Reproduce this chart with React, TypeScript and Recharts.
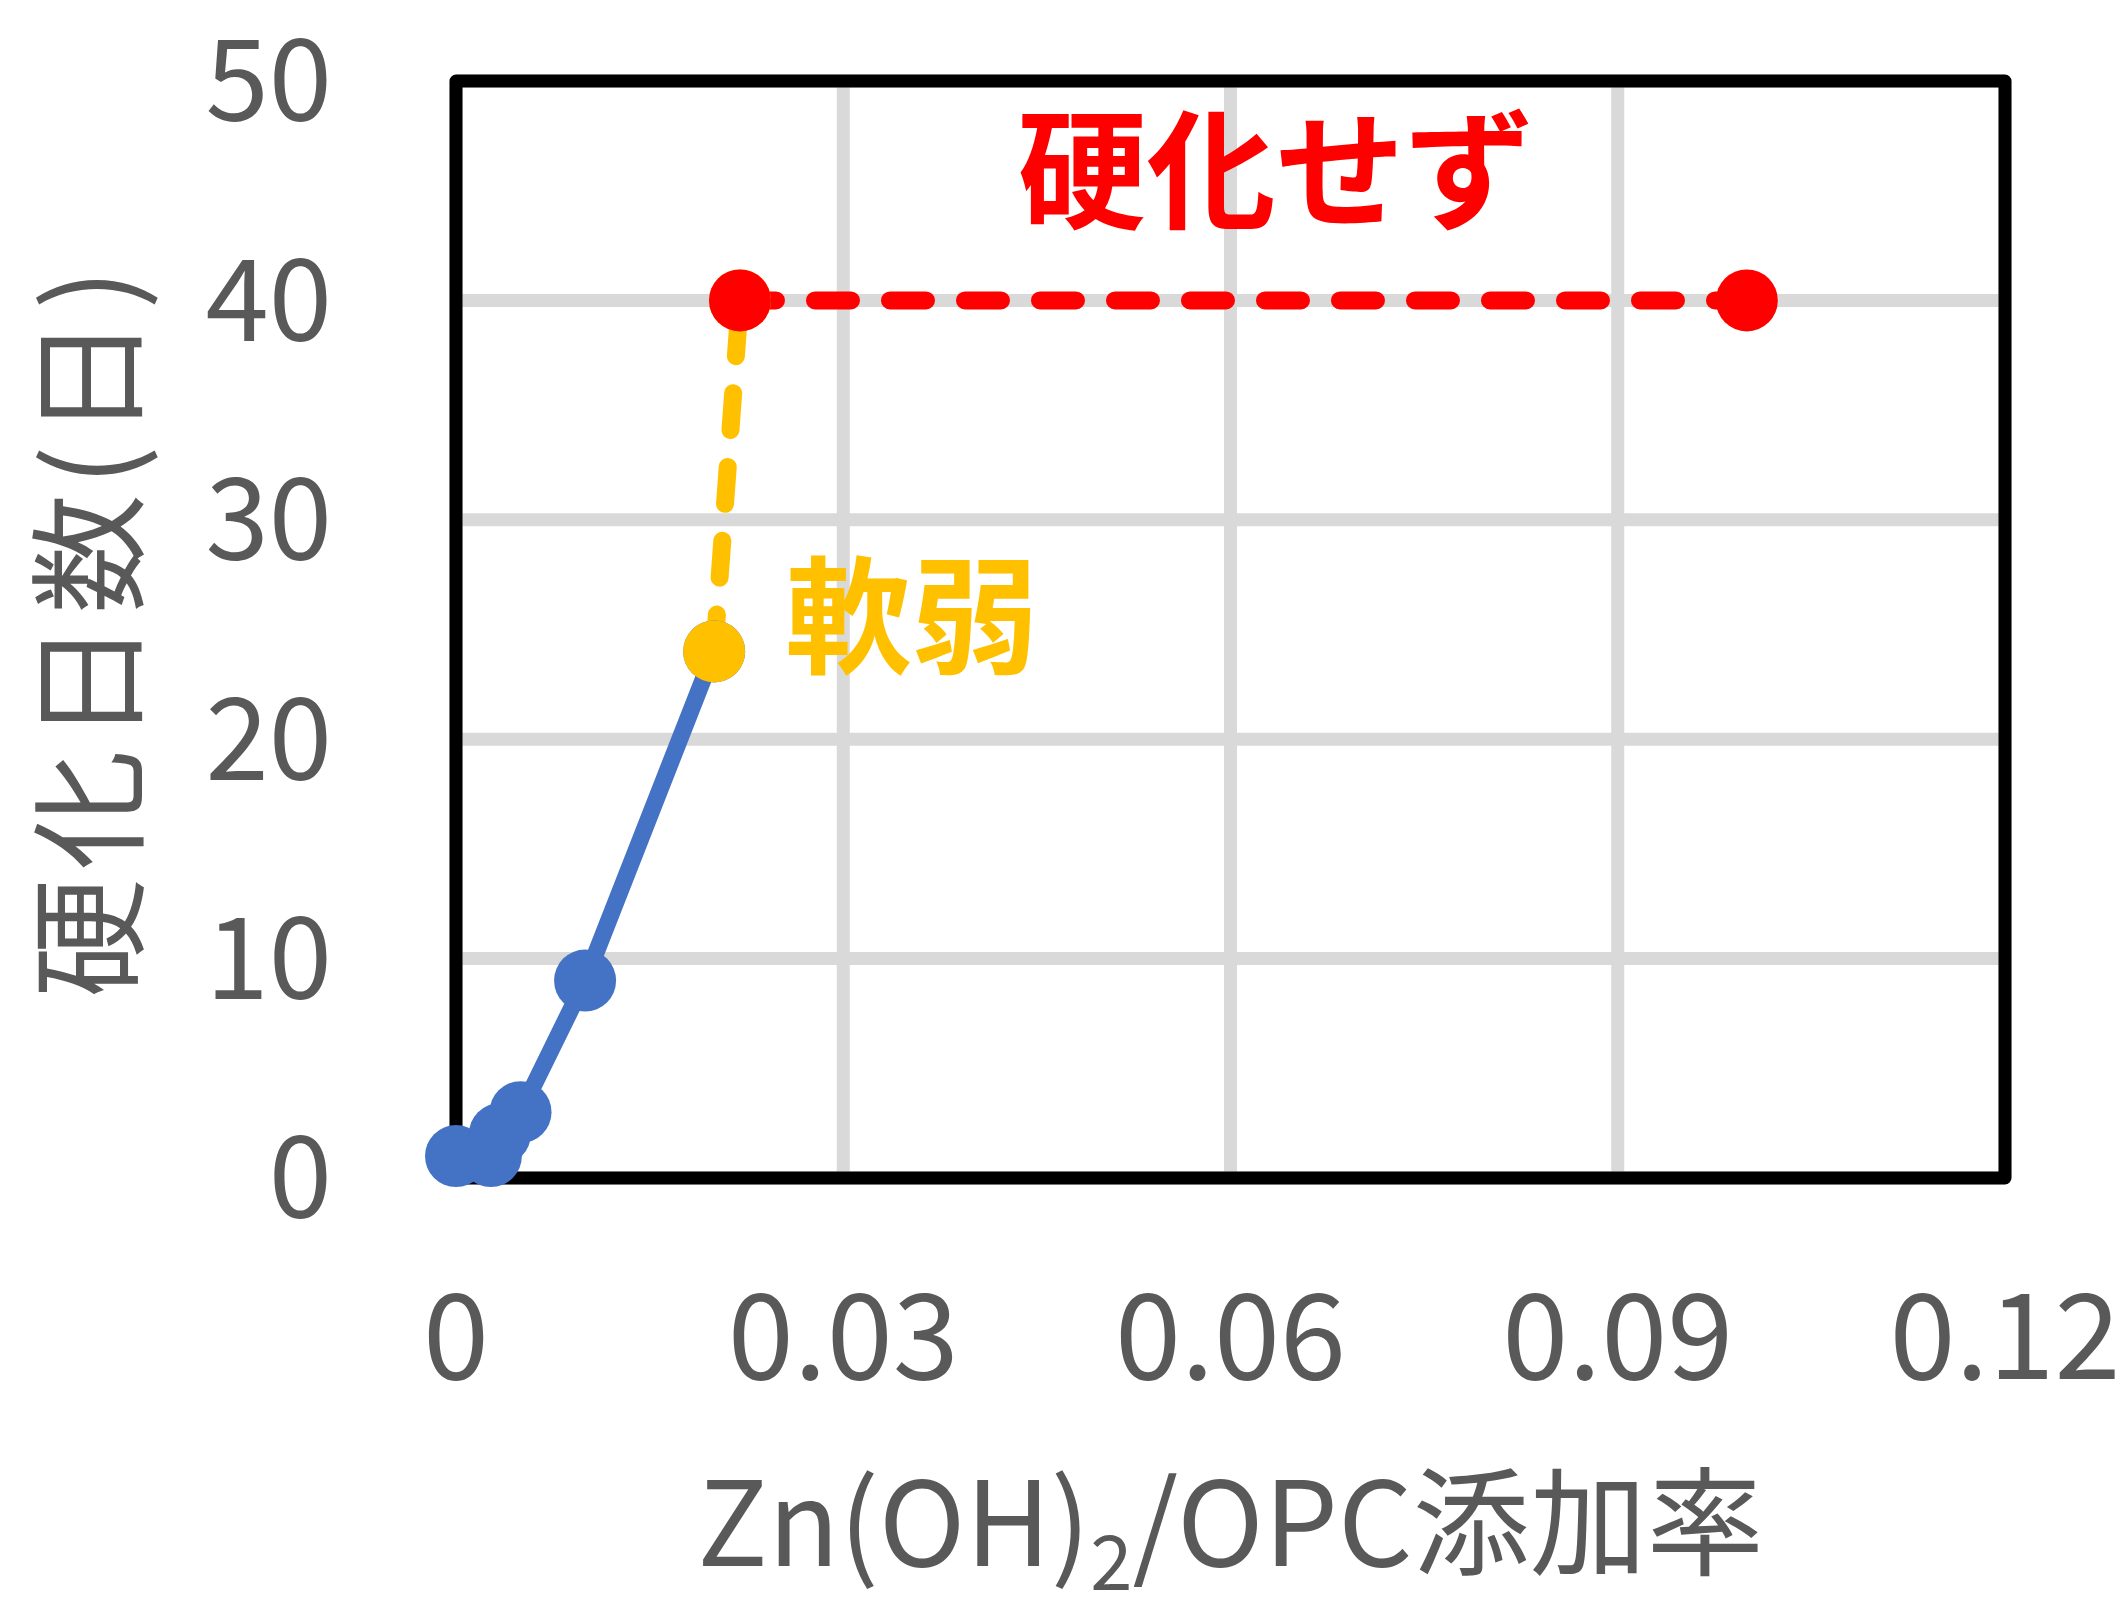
import { LineChart, Line, XAxis, YAxis, CartesianGrid, ReferenceArea, ReferenceDot } from 'recharts';

const FONT = '"Noto Sans CJK JP", "Noto Sans", sans-serif';
const TEXT_GRAY = '#595959';

// 硬化日数 vs Zn(OH)2/OPC 添加率
const hardened = [
  { x: 0, y: 1 },
  { x: 0.0027, y: 1 },
  { x: 0.0034, y: 2 },
  { x: 0.005, y: 3 },
  { x: 0.01, y: 9 },
  { x: 0.02, y: 24 },
];

const weak = [
  { x: 0.02, y: 24 },
  { x: 0.022, y: 40 },
];

const notHardened = [
  { x: 0.022, y: 40 },
  { x: 0.1, y: 40 },
];

const xTicks = [0, 0.03, 0.06, 0.09, 0.12];
const yTicks = [0, 10, 20, 30, 40, 50];

const notes = [
  { x: 0.0635, y: 45.8, text: '硬化せず', color: '#FF0000', size: 129 },
  { x: 0.0353, y: 25.5, text: '軟弱', color: '#FFC000', size: 127 },
];

function XTitle({ viewBox }: any) {
  const cx = viewBox.x + viewBox.width / 2;
  const y = viewBox.y + 388;
  return (
    <text x={cx} y={y} textAnchor="middle" fill={TEXT_GRAY} fontSize={117} fontFamily={FONT}>
      Zn(OH)
      <tspan fontSize={76} dy={24}>2</tspan>
      <tspan dy={-24}>/OPC添加率</tspan>
    </text>
  );
}

function YTitle({ viewBox }: any) {
  const cy = viewBox.y + viewBox.height / 2;
  return (
    <text
      x={82}
      y={cy}
      transform={`rotate(-90, 82, ${cy})`}
      textAnchor="middle"
      dominantBaseline="central"
      fill={TEXT_GRAY}
      fontSize={120}
      letterSpacing={8}
      fontFamily={FONT}
    >
      硬化日数(日)
    </text>
  );
}

export default function App() {
  return (
    <div style={{ position: 'absolute', left: 0, top: 0, background: '#fff' }}>
      <LineChart
        width={2126}
        height={1603}
        margin={{ top: 81, right: 121, left: 0, bottom: 0 }}
      >
        <CartesianGrid stroke="#D9D9D9" strokeWidth={13} />
        <XAxis
          type="number"
          dataKey="x"
          domain={[0, 0.12]}
          ticks={xTicks}
          height={425}
          axisLine={false}
          tickLine={false}
          tickSize={0}
          tickMargin={117}
          tick={{ fontSize: 119, fill: TEXT_GRAY, fontFamily: FONT }}
          label={<XTitle />}
        />
        <YAxis
          type="number"
          dataKey="y"
          domain={[0, 50]}
          ticks={yTicks}
          width={456}
          axisLine={false}
          tickLine={false}
          tickSize={0}
          tickMargin={124}
          tick={{ fontSize: 114, fill: TEXT_GRAY, fontFamily: FONT }}
          label={<YTitle />}
        />
        <ReferenceArea
          x1={0}
          x2={0.12}
          y1={0}
          y2={50}
          fill="none"
          fillOpacity={0}
          stroke="#000"
          strokeWidth={13}
          strokeLinejoin="round"
        />
        <Line
          data={hardened}
          dataKey="y"
          type="linear"
          stroke="#4472C4"
          strokeWidth={17}
          dot={{ r: 31, fill: '#4472C4', stroke: 'none' }}
          isAnimationActive={false}
        />
        <Line
          data={weak}
          dataKey="y"
          type="linear"
          stroke="#FFC000"
          strokeWidth={18}
          strokeDasharray="37 37"
          strokeLinecap="round"
          dot={{ r: 31, fill: '#FFC000', stroke: 'none', strokeDasharray: 'none' }}
          isAnimationActive={false}
        />
        <Line
          data={notHardened}
          dataKey="y"
          type="linear"
          stroke="#FF0000"
          strokeWidth={18}
          strokeDasharray="36 39"
          strokeLinecap="round"
          dot={{ r: 31, fill: '#FF0000', stroke: 'none', strokeDasharray: 'none' }}
          isAnimationActive={false}
        />
        {notes.map((n) => (
          <ReferenceDot
            key={n.text}
            x={n.x}
            y={n.y}
            r={0}
            stroke="none"
            fill="none"
            label={{
              value: n.text,
              position: 'center',
              fill: n.color,
              fontSize: n.size,
              fontWeight: 'bold',
              fontFamily: FONT,
            }}
          />
        ))}
      </LineChart>
    </div>
  );
}
